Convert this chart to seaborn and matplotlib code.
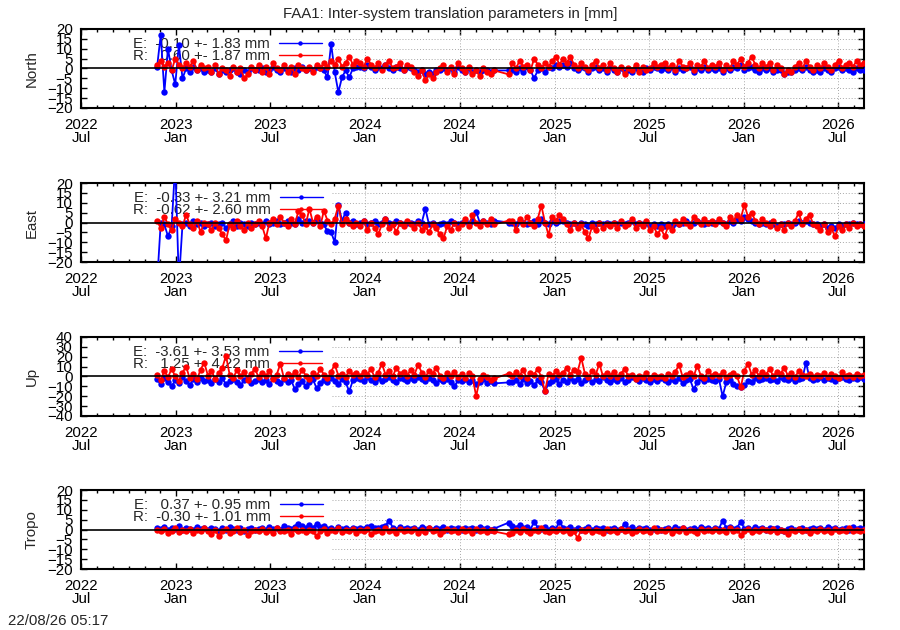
import matplotlib.pyplot as plt
import matplotlib.dates as mdates
from matplotlib.lines import Line2D
import numpy as np
import pandas as pd
import seaborn as sns

sns.set_theme(style="ticks")
plt.rcParams["font.family"] = ["Liberation Sans", "DejaVu Sans"]
plt.rcParams["font.size"] = 10.8

# weekly samples, first one on 2022-11-25, None = no data
first_day = "2022-11-25"

n_e = [1, 17, -12, 10, -1, -8, 12, -5, 0, -2, 1, -1, 0, -2,
       -1, -2, 0, -3, -1, -2, -1, 0, -2, -3, -1, -2, 0, -1,
       -1, 0, -2, -1, 1, -1, -2, 0, -1, -2, 0, -1, 1, -1,
       0, -1, 1, 0, -1, -4.5, 12.5, -2, -12, -4.5, -1, -4.5, 0, 1,
       1, 0, 2, 1, -1, 1, 0, 2, 0, -1, 1, 0, -1, 1,
       0, -1, -2, -1, -3, -2, -3, -1, -1, 0, -1, 0, -2, 1,
       -1, -2, 0, -2, -1, -2, -1, -1, -2, -1, None, None, None, -1,
       -1, -2, 0, -2, 1, -1, -5, -1, 0, -2, 1, 0, 2, 1,
       2, 1, 3, 0, -1, 1, 0, -2, 0, 1, -1, 0, -2, 1,
       -1, -2, 0, -2, -1, -2, 0, -1, -2, 0, -1, 1, 0, -1,
       0, -1, 1, -2, 0, -1, 0, 1, -2, 0, -1, 1, -1, 0,
       -1, 0, -2, 0, -1, 1, 0, 2, -1, 0, 1, -1, -2, 0,
       -1, 0, -2, -1, -1, -3, -2, -2, -1, 0, -1, 1, -1, -2,
       -1, -2, 0, -1, -2, 0, 1, -1, 0, -1, -2, 0, -1, -1]
n_r = [2, 4, 1, 3, -1, 5, 2, 0, 3, 1, 4, -1, 2, 0,
       1, -2, 2, -3, 0, -1, -4, 1, -2, 0, -5, -3, 1, -1,
       2, -2, 1, -3, 3, 0, -1, 2, -2, 1, -3, 2, 0, -1,
       1, -2, 2, 0, 3, 1, 4, 2, 5, 1, 3, 6, 2, 4,
       3, 1, 5, 2, 0, 3, -1, 2, 4, 0, 1, 3, -1, 2,
       1, -2, -4, -1, -6, -3, -5, -2, 0, 2, -2, 1, -3, 3,
       0, -2, 1, -3, -1, -4, 0, -2, -3, -1, None, None, None, -3,
       3, 0, 4, 1, 2, -1, 5, 2, 0, 3, 1, 4, 6, 2,
       5, 3, 6, 2, 0, 3, 1, -1, 2, 4, 0, 2, -1, 3,
       0, -2, 1, -3, 0, -1, 2, -2, 1, -1, 0, 3, 1, 2,
       3, 0, 2, -1, 4, 1, 0, 3, -1, 2, 1, 4, 0, 2,
       1, 3, -1, 2, 0, 4, 2, 5, 1, 3, 6, 2, 0, 3,
       1, 3, -1, 2, 0, -3, -1, -2, 1, 3, 0, 4, 1, -1,
       2, 0, 3, 1, -1, 2, 4, 0, 2, 3, 1, 4, 2, 3]

e_e = [-30, 0, -1, -7, -2, 30, -30, -1, 0, -2, 1, -1, 0, -2,
       -1, 0, -2, -1, 0, -3, -1, 1, -2, 0, -1, -2, 0, -1,
       0, -1, 1, -1, 0, 1, -1, 0, 1, 0, -1, 2, 0, 1,
       1, 0, 2, 0, -1, -4.5, -5, -10, 9, 1, 5, 0, 1, -1,
       0, 1, -1, 0, 1, -1, 0, 2, 0, -1, 1, 0, -1, 0,
       0, -1, 1, 0, 7, -1, 0, -2, -1, 0, -1, 1, 0, -1,
       0, 1, -1, 1, 5.5, 0, 1, 0, -1, 1, None, None, None, 0,
       0, -1, 1, 0, -1, 0, 1, -1, 2, 0, -1, 1, 0, 1,
       1, 0, -1, 0, -2, 0, -1, -2, 0, -1, 0, -1, 0, -1,
       0, -1, 0, -1, 0, 1, -1, 0, -1, 0, -2, -1, -2, -1,
       -2, -1, -2, 0, -1, 0, 1, -1, 0, 1, 0, -1, 0, 0,
       0, 1, 0, -1, 1, 0, 2, 1, 3, 2, 1, 0, -1, 0,
       -1, 0, -1, -2, -1, -1, 0, -1, 0, 1, 0, 1, 0, -1,
       -1, -2, -1, -3, -2, -3, -1, -2, -1, -1, 0, -1, -1, -1]
e_r = [1, -3, 3, -1, -4, 2, 0, -2, 4, -1, -3, 1, -5, 0,
       -1, -4, 0, -3, -6, -9, -1, -3, 1, -2, -4, 0, -3, -1,
       1, -2, -8, 0, 2, -1, 3, 0, -2, 2, -1, 6, 4, -1,
       7, 0, 3, -2, 6, 1, -1, 2, 8.5, -1, 2, 0, -2, 0,
       -2, 1, -4, 0, -3, -6, -1, 2, -3, -1, -5, 0, -2, 1,
       -1, -3, 0, -4, -2, -5, -1, -3, -6, -8, -2, -4, 0, -3,
       -1, 2, -2, 4, 0, -2, 1, -1, 2, -1, None, None, None, 1,
       1, -4, 2, -1, 3, 0, -2, 2, 8.5, 0, -6.5, 3, 1, 4,
       2, -1, -4, 0, -3, -1, -5, -8, -2, -4, 0, -3, -1, -2,
       0, -3, 1, -2, -1, 2, -3, 0, -2, 1, -4, -2, -6, -3,
       -7, -2, -4, 1, -1, 2, 0, -2, 3, 1, -1, 2, 0, 1,
       -1, 2, 0, -2, 3, 1, 4, 2, 9, 3, 5, 1, -1, 2,
       0, -2, 1, -3, -1, -4, 0, -2, 1, 5, -1, 2, 4, -1,
       -2, -4, -1, -5, -3, -7, -2, -4, -1, -3, 0, -2, -1, -2]

u_e = [-3, -8, -2, -6, -10, -4, -7, -1, -5, -9, -3, -6, -2, -5,
       -4, -7, -3, -6, -2, -8, -5, -3, -6, -9, -4, -2, -7, -5,
       -3, -6, -4, -8, -2, -5, -7, -3, -6, -4, -13, -8, -5, -10,
       -6, -3, -12, -7, -4, -6, -2, -5, -8, -3, -6, -15, -4, -2,
       -3, -5, -1, -4, -6, -2, -5, -3, -1, -4, -6, -2, -3, -5,
       -2, -4, -1, -3, -5, -2, -4, -7, -3, -5, -3, -6, -10, -4,
       -5, -3, -6, -4, -8, -6, -3, -7, -5, -7, None, None, None, -6,
       -6, -4, -8, -3, -7, -5, -9, -4, -6, -15, -7, -5, -3, -8,
       -4, -6, -2, -5, -3, -7, -4, -2, -6, -3, -5, -1, -4, -6,
       -3, -5, -2, -6, -4, -1, -3, -5, -2, -4, -6, -3, -5, -2,
       -4, -6, -3, -5, -2, -7, -4, -3, -13, -6, -2, -5, -3, -4,
       -5, -3, -20, -6, -4, -8, -10, -11, -9, -5, -6, -2, -4, -3,
       -2, -4, -3, -5, -1, -3, -4, -2, -5, -3, -2, 14, -2, -4,
       -3, -1, -4, -2, -3, -5, -2, -1, -3, -4, -2, -3, -1, -3]
u_r = [2, -4, 6, -1, 8, 0, -5, 4, 10, -2, 3, -3, 7, 14,
       1, 6, -3, 4, 9, 21, 2, -2, 7, 0, 5, -4, 3, 8,
       -1, 4, 0, 6, -3, 2, 13, -2, 3, 0, 5, -1, 7, 1,
       -3, 4, 0, 8, 2, -2, 5, 12, 1, 3, -1, 6, 2, 4,
       0, 5, 2, 8, -1, 4, 13, 2, 6, 0, 9, 3, 5, 1,
       7, 2, 12, 4, -1, 6, 3, 9, 1, -2, 4, 0, 5, -1,
       3, -2, 4, 0, -20, -3, 2, -1, -4, -2, None, None, None, 3,
       0, 5, 1, 7, -2, 4, 2, 8, -1, -15, 3, 0, 6, 2,
       4, 9, 2, 7, 5, 19, 3, -1, 6, 2, 13, 0, 4, 1,
       5, -1, 3, 8, 0, 2, -3, 1, -1, 4, -2, 2, -1, 1,
       -2, 3, 0, 5, 12, -1, 2, 4, 0, 11, 1, -2, 6, 1,
       3, 0, 5, -1, 2, 4, 0, -11, 6, 13, 2, 7, 1, 5,
       2, 8, 0, 5, 3, 9, 1, 4, -1, 6, 2, 0, 3, -1,
       2, 0, 4, -1, 3, 1, -2, 5, 0, 2, -1, 3, 1, 2]

t_e = [1, 0.5, 1.5, 0, 1, 0.5, 2, 0, 1, 0.5, 0, 1.5, 0.5, 1,
       0, 1, 0.5, -0.5, 1, 0, 1.5, 0.5, 0, 1, -0.5, 0.5, 1, 0,
       0.5, 1, 0, 1.5, 0.5, 1, 0, 2, 1, 0.5, 1.5, 3, 2, 1,
       2.5, 1, 3, 1.5, 2, 0.5, 1, 0, 1.5, 0.5, 1, 0, 1, 0.5,
       1, 0.5, 1.5, 2, 1, 1, 1.5, 2, 4.5, 1, 0, 1.5, 0.5, 1,
       0.5, 1, 0, 1.5, 0.5, 1, 0, 1, 0.5, 1.5, 0, 1, 0.5, 1,
       0, 1, 0.5, 1, 0, 1.5, 0.5, 1, 0, 0.5, None, None, None, 3.5,
       2, 1, 2.5, 1, 1.5, 0, 4, 1, 0.5, 1.5, 0, 1, 0.5, 4,
       1, 0.5, 1.5, 0, 1, 0, 0.5, 1.5, 0, 1, 0.5, 1, 0, 0.5,
       1, 0, 0.5, 3, 0.5, 1.5, 0, 1, 0.5, 1, 0, 0.5, 1, 0,
       0.5, 1, 0, 1.5, 0.5, 1, 0, 0.5, 1, 0, 1.5, 0.5, 1, 0,
       1, 0.5, 4.5, 1, 1.5, 0.5, 1, 4, 0.5, 1, 0, 1.5, 0.5, 1,
       0, 1, 0.5, 1, 0, -0.5, 0.5, 1, 0, 0.5, 1, 0, 0.5, 1,
       0.5, 1, 0, 1.5, 0.5, 1, 0, 0.5, 1, 0, 1.5, 0.5, 1, 0.5]
t_r = [0, -1, 0.5, -2, -0.5, 1, -1.5, 0, -1, 0.5, -2, 0, -1, 1,
       -1, -2.5, 0, -3.5, -1, 0.5, -2, -1, 1, -1.5, 0, -3, -1, 0,
       -1, 0.5, -1.5, 0, -2, 1, -0.5, -1, 0, -2.5, 0.5, -1, 0, -1.5,
       0, -1, -3.5, -1, 0.5, -2, 0, -1, 1, -1.5, 0, -1, 0.5, -2,
       0, -1, 0.5, -2.5, -1, 0, -1.5, 1, -1, 0, -2, 0.5, -1, 0,
       -1, 0.5, -2, 0, -1.5, 1, -1, 0, -2.5, -0.5, 0.5, -1, 0, -1.5,
       0.5, -1, 0, -2, 0.5, -1, 0, -1.5, 0, -1, None, None, None, -2.5,
       -2, 0, -1.5, 0.5, -1, -2, 0, -1, 1, -0.5, -1.5, 0, -1, 0.5,
       -1, 0, -2, -1, -4.5, 0, -1, 0.5, -1.5, 0, -1, -2, 0.5, -1,
       0, -1.5, 0.5, -1, 0, -2, -1, 0.5, -1, 0, -1.5, 1, -1, 0,
       -1, 0.5, -2, 0, -1, 1, -1.5, 0, -0.5, -2, 0.5, -1, 0, -1,
       0.5, -1, 0, -1.5, 1, -1, 0, -3, -1, 0.5, -1.5, 0, -1, 0.5,
       0, -1, 0.5, -1.5, 0, -1, -2.5, 0, -1, 0.5, -1, 0, -2, 0,
       -1, 0.5, -1, 0, -1.5, 0.5, -1, 0, -0.5, 1, -1, 0, -0.5, 0]

panel_names = ["North", "East", "Up", "Tropo"]
y_limits = [20, 20, 40, 20]
y_steps = [5, 5, 10, 5]
labels_e = ["E:  -0.10 +- 1.83 mm", "E:  -0.33 +- 3.21 mm",
            "E:  -3.61 +- 3.53 mm", "E:   0.37 +- 0.95 mm"]
labels_r = ["R:   0.60 +- 1.87 mm", "R:  -0.62 +- 2.60 mm",
            "R:   1.25 +- 4.22 mm", "R:  -0.30 +- 1.01 mm"]
title = "FAA1: Inter-system translation parameters in [mm]"
stamp = "22/08/26 05:17"

dates = pd.date_range(first_day, periods=len(n_e), freq="7D")
series = [(n_e, n_r), (e_e, e_r), (u_e, u_r), (t_e, t_r)]
colors = {"E": "#0000ff", "R": "#ff0000"}
x_start = pd.Timestamp("2022-07-01")
x_end = pd.Timestamp("2026-08-21")

fig = plt.figure(figsize=(9, 6.3), dpi=100)
bottoms = [0.8286, 0.5841, 0.3397, 0.0968]

for i, (e_vals, r_vals) in enumerate(series):
    ax = fig.add_axes([0.09, bottoms[i], 0.87, 0.1254])
    df = pd.DataFrame({"date": dates, "E": e_vals, "R": r_vals})
    df = df.melt(id_vars="date", var_name="sol", value_name="val").dropna()
    sns.lineplot(
        data=df, x="date", y="val", hue="sol", hue_order=["E", "R"],
        palette=colors, estimator=None, sort=False, legend=False,
        marker="o", markersize=4.6, markeredgewidth=0, linewidth=1.3,
        ax=ax, zorder=3
    )

    lim = y_limits[i]
    yt = np.arange(-lim, lim + 1, y_steps[i])
    ax.set_ylim(-lim, lim)
    ax.set_yticks(yt)
    ax.set_xlim(x_start, x_end)
    ax.xaxis.set_major_locator(mdates.MonthLocator(bymonth=[1, 7]))
    ax.xaxis.set_minor_locator(mdates.MonthLocator())
    ax.xaxis.set_major_formatter(mdates.DateFormatter("%Y\n%b"))

    # gnuplot's key hides the grid on the left part of every panel
    for y in yt[1:-1]:
        if y != 0:
            ax.axhline(y, xmin=0.32, xmax=1, color="#a8a8a8", lw=0.7,
                       ls=(0, (1, 2)), zorder=1)
    x0, x1 = mdates.date2num(x_start), mdates.date2num(x_end)
    for t in ax.get_xticks():
        if (t - x0) / (x1 - x0) > 0.32:
            ax.axvline(t, color="#a8a8a8", lw=0.7, ls=(0, (1, 2)), zorder=1)
    ax.axhline(0, color="black", lw=1.2, zorder=4)

    ax.tick_params(axis="both", which="both", direction="in",
                   top=True, right=True, labelsize=10.8, colors="black")
    ax.tick_params(which="major", length=4.5, width=1)
    ax.tick_params(which="minor", length=2.5, width=1)
    ax.tick_params(axis="x", pad=7)
    ax.tick_params(axis="y", pad=6)
    for lbl in ax.get_xticklabels():
        lbl.set_linespacing(0.95)
    for s in ax.spines.values():
        s.set_linewidth(1.5)
        s.set_color("black")

    ax.set_xlabel("")
    ax.set_ylabel(panel_names[i], fontsize=10.8)
    ax.yaxis.set_label_coords(-0.054, 0.5)

    handles = [Line2D([], [], color=colors[k], marker="o", markersize=3.2,
                      markeredgewidth=0, lw=1) for k in ["E", "R"]]
    leg = ax.legend(handles, [labels_e[i], labels_r[i]], loc="upper left",
                    bbox_to_anchor=(0.066, 0.9), frameon=False,
                    markerfirst=False, borderpad=0, borderaxespad=0,
                    handlelength=2.9, handletextpad=0.6, labelspacing=-0.1,
                    fontsize=10.8)
    leg.set_zorder(2)

fig.text(0.5, 0.978, title, ha="center", va="center", fontsize=10.8)
fig.text(8 / 900, 1 - 621 / 630, stamp, ha="left", va="center", fontsize=10.8)

fig.savefig("out.png", dpi=100)
